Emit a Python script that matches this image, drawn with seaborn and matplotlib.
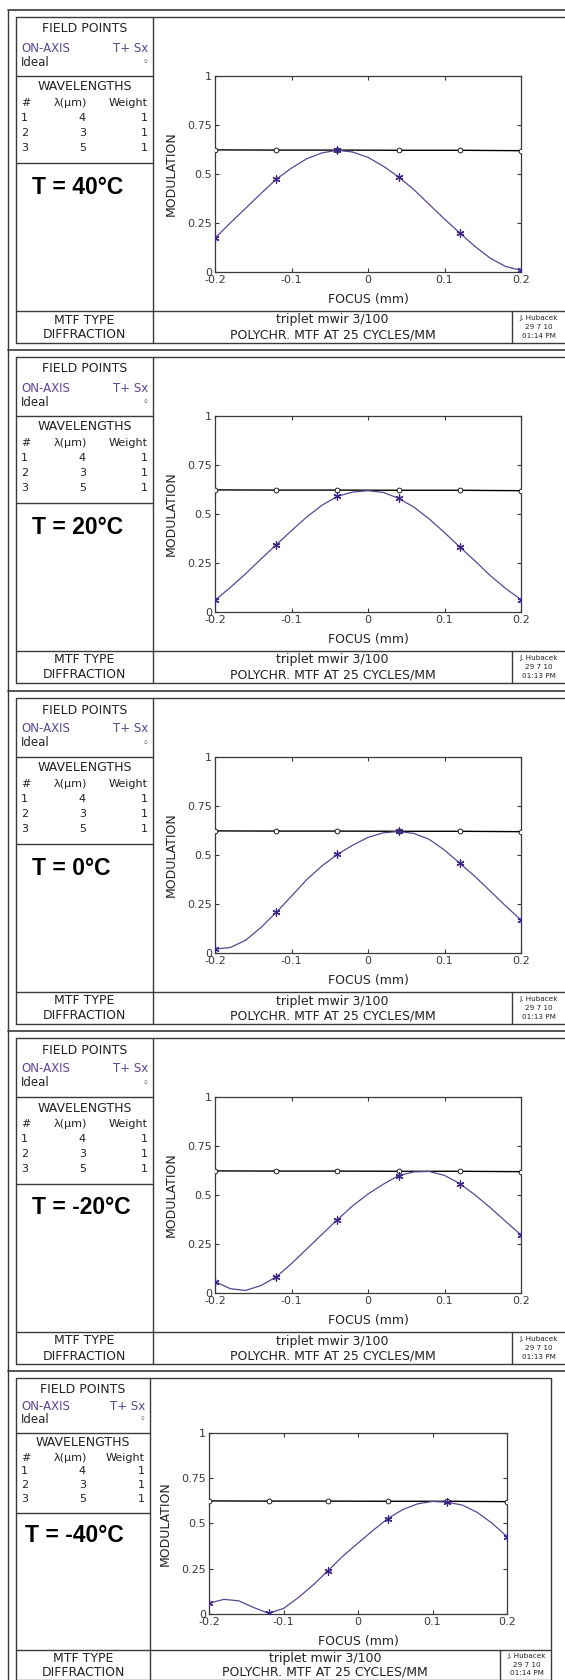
import numpy as np
import pandas as pd
import matplotlib
matplotlib.use("Agg")
import matplotlib.pyplot as plt
from matplotlib.lines import Line2D
import seaborn as sns

sns.set_style("ticks")
plt.rcParams['font.family'] = ['DejaVu Sans']

W, H = 565, 1680

# focus positions (mm) where the curves were read, and where the markers sit
focus_grid = [-0.20, -0.18, -0.16, -0.14, -0.12, -0.10, -0.08, -0.06, -0.04, -0.02, 0.00,
              0.02, 0.04, 0.06, 0.08, 0.10, 0.12, 0.14, 0.16, 0.18, 0.20]
focus_pts = [-0.20, -0.12, -0.04, 0.04, 0.12, 0.20]

temps = ["T = 40°C", "T = 20°C", "T = 0°C", "T = -20°C", "T = -40°C"]
times = ["01:14 PM", "01:13 PM", "01:13 PM", "01:13 PM", "01:14 PM"]

ideal_pts = [0.623, 0.622, 0.622, 0.621, 0.621, 0.619]

# polychromatic MTF
curve_40 = [0.173, 0.25, 0.325, 0.40, 0.473, 0.53, 0.578, 0.608, 0.621, 0.612, 0.585,
            0.54, 0.485, 0.42, 0.345, 0.27, 0.199, 0.13, 0.07, 0.028, 0.008]
pts_40 = [0.173, 0.473, 0.621, 0.485, 0.199, 0.008]

curve_20 = [0.060, 0.125, 0.195, 0.27, 0.343, 0.415, 0.485, 0.545, 0.590, 0.612, 0.619,
            0.610, 0.580, 0.535, 0.475, 0.405, 0.332, 0.26, 0.185, 0.12, 0.063]
pts_20 = [0.060, 0.343, 0.590, 0.580, 0.332, 0.063]

curve_0 = [0.020, 0.028, 0.065, 0.13, 0.207, 0.29, 0.375, 0.445, 0.503, 0.55, 0.59,
           0.613, 0.620, 0.610, 0.58, 0.525, 0.458, 0.39, 0.315, 0.24, 0.168]
pts_0 = [0.020, 0.207, 0.503, 0.620, 0.458, 0.168]

curve_m20 = [0.058, 0.022, 0.013, 0.038, 0.082, 0.15, 0.225, 0.30, 0.374, 0.445, 0.505,
             0.555, 0.599, 0.618, 0.620, 0.60, 0.558, 0.50, 0.435, 0.365, 0.296]
pts_m20 = [0.058, 0.082, 0.374, 0.599, 0.558, 0.296]

curve_m40 = [0.059, 0.080, 0.072, 0.035, 0.003, 0.03, 0.09, 0.16, 0.239, 0.32, 0.39,
             0.46, 0.526, 0.575, 0.607, 0.620, 0.616, 0.60, 0.56, 0.50, 0.426]
pts_m40 = [0.059, 0.003, 0.239, 0.526, 0.616, 0.426]

curves = [curve_40, curve_20, curve_0, curve_m20, curve_m40]
points = [pts_40, pts_20, pts_0, pts_m20, pts_m40]

# panel layout in pixels: inner top, vertical scale, column edge, plot edges, stamp box, inner right
panels = [
    dict(top=17, s=1.0, col=153, pl=215, pr=521, box=512, right=580, tx=32),
    dict(top=357, s=1.0, col=153, pl=215, pr=521, box=512, right=580, tx=32),
    dict(top=698, s=1.0, col=153, pl=215, pr=521, box=512, right=580, tx=32),
    dict(top=1038, s=1.0, col=153, pl=215, pr=521, box=512, right=580, tx=32),
    dict(top=1378, s=0.925, col=150, pl=209, pr=507, box=500, right=551, tx=25),
]

line_c = "#3a3a3a"
purple = "#5c4592"
star_c = "#3b2486"
FS = 9.0
FS_SMALL = 8.0


def fx(x):
    return x / W


def fy(y):
    return 1 - y / H


def seg(fig, x0, y0, x1, y1, lw=1.0):
    fig.add_artist(Line2D([fx(x0), fx(x1)], [fy(y0), fy(y1)], color=line_c, lw=lw,
                          transform=fig.transFigure))


def txt(fig, x, y, s, ha="center", **kw):
    kw.setdefault("fontsize", FS)
    kw.setdefault("color", "#222222")
    fig.text(fx(x), fy(y), s, ha=ha, va="center", **kw)


fig = plt.figure(figsize=(W / 100, H / 100), dpi=100)

for i, p in enumerate(panels):
    T, s = p["top"], p["s"]
    col, box, R = p["col"], p["box"], p["right"]
    bot = T + 326 * s
    strip = T + 294 * s

    # outer frame
    seg(fig, 8, T - 7, 570, T - 7, lw=1.2)
    seg(fig, 8, T - 7, 8, min(T + 333, 1680), lw=1.0)
    # inner frame and dividers
    seg(fig, 16, T, R, T)
    seg(fig, 16, T, 16, bot)
    seg(fig, 16, bot, R, bot)
    if R < W:
        seg(fig, R, T, R, bot)
    seg(fig, col, T, col, bot)
    seg(fig, 16, T + 59 * s, col, T + 59 * s)
    seg(fig, 16, T + 146 * s, col, T + 146 * s)
    seg(fig, 16, strip, R, strip)
    seg(fig, box, strip, box, bot)

    # left column text
    cx = (16 + col) / 2
    rx = col - 5
    txt(fig, cx, T + 12 * s, "FIELD POINTS")
    txt(fig, 21, T + 31 * s, "ON-AXIS", ha="left", color=purple, fontsize=FS_SMALL + 0.5)
    txt(fig, rx, T + 31 * s, "T+ Sx", ha="right", color=purple, fontsize=FS_SMALL + 0.5)
    txt(fig, 21, T + 45 * s, "Ideal", ha="left", fontsize=FS_SMALL + 0.5)
    txt(fig, rx, T + 45 * s, "\u25e6", ha="right", fontsize=7)
    txt(fig, cx, T + 70 * s, "WAVELENGTHS")
    txt(fig, 21, T + 86 * s, "#", ha="left", fontsize=FS_SMALL)
    txt(fig, 70, T + 86 * s, "λ(μm)", fontsize=FS_SMALL)
    txt(fig, rx, T + 86 * s, "Weight", ha="right", fontsize=FS_SMALL)
    for k, (num, wl) in enumerate(zip(["1", "2", "3"], ["4", "3", "5"])):
        yy = T + (101 + 15 * k) * s
        txt(fig, 21, yy, num, ha="left", fontsize=FS_SMALL)
        txt(fig, 86, yy, wl, ha="right", fontsize=FS_SMALL)
        txt(fig, rx, yy, "1", ha="right", fontsize=FS_SMALL)
    fig.text(fx(p["tx"]), fy(T + 170 * s), temps[i], ha="left", va="center",
             fontsize=16.5, fontweight="bold", family=["Liberation Sans"], color="black")

    # bottom strip
    txt(fig, cx, T + 303 * s, "MTF TYPE")
    txt(fig, cx, T + 318 * s, "DIFFRACTION")
    mx = (col + box) / 2
    txt(fig, mx, T + 303 * s, "triplet mwir 3/100")
    txt(fig, mx, T + 318 * s, "POLYCHR. MTF AT 25 CYCLES/MM")
    for k, st in enumerate(["J. Hubacek", "29 7 10", times[i]]):
        txt(fig, box + 27, T + (301 + 9 * k) * s, st, fontsize=5.2)

    # plot
    pt, pb = T + 59 * s, T + 255 * s
    ax = fig.add_axes([fx(p["pl"]), fy(pb), fx(p["pr"] - p["pl"]), (pb - pt) / H])
    df_c = pd.DataFrame({"focus": focus_grid, "mtf": curves[i]})
    df_p = pd.DataFrame({"focus": focus_pts, "mtf": points[i], "ideal": ideal_pts})
    sns.lineplot(data=df_p, x="focus", y="ideal", ax=ax, color="black", lw=1.0)
    sns.scatterplot(data=df_p, x="focus", y="ideal", ax=ax, marker="o", s=12,
                    facecolor="white", edgecolor="black", linewidth=0.6, zorder=4)
    sns.lineplot(data=df_c, x="focus", y="mtf", ax=ax, color=purple, lw=0.9)
    sns.scatterplot(data=df_p, x="focus", y="mtf", ax=ax, marker=(6, 2, 0), s=26,
                    color=star_c, linewidth=0.9, zorder=5)

    ax.set_xlim(-0.2, 0.2)
    ax.set_ylim(0, 1)
    ax.set_xticks([-0.2, -0.1, 0, 0.1, 0.2])
    ax.set_xticklabels(["-0.2", "-0.1", "0", "0.1", "0.2"])
    ax.set_yticks([0, 0.25, 0.5, 0.75, 1])
    ax.set_yticklabels(["0", "0.25", "0.5", "0.75", "1"])
    ax.tick_params(direction="in", length=3, width=0.8, top=True, right=True,
                   labelsize=8, colors=line_c, pad=2)
    for sp in ax.spines.values():
        sp.set_color(line_c)
        sp.set_linewidth(0.9)
    ax.set_xlabel("FOCUS (mm)", fontsize=FS, color="#222222")
    ax.set_ylabel("MODULATION", fontsize=FS, color="#222222")
    ax.xaxis.set_label_coords(0.5, -21 / (pb - pt))
    ax.yaxis.set_label_coords(-37 / (p["pr"] - p["pl"]), 0.5)

fig.savefig("out.png", dpi=100)
